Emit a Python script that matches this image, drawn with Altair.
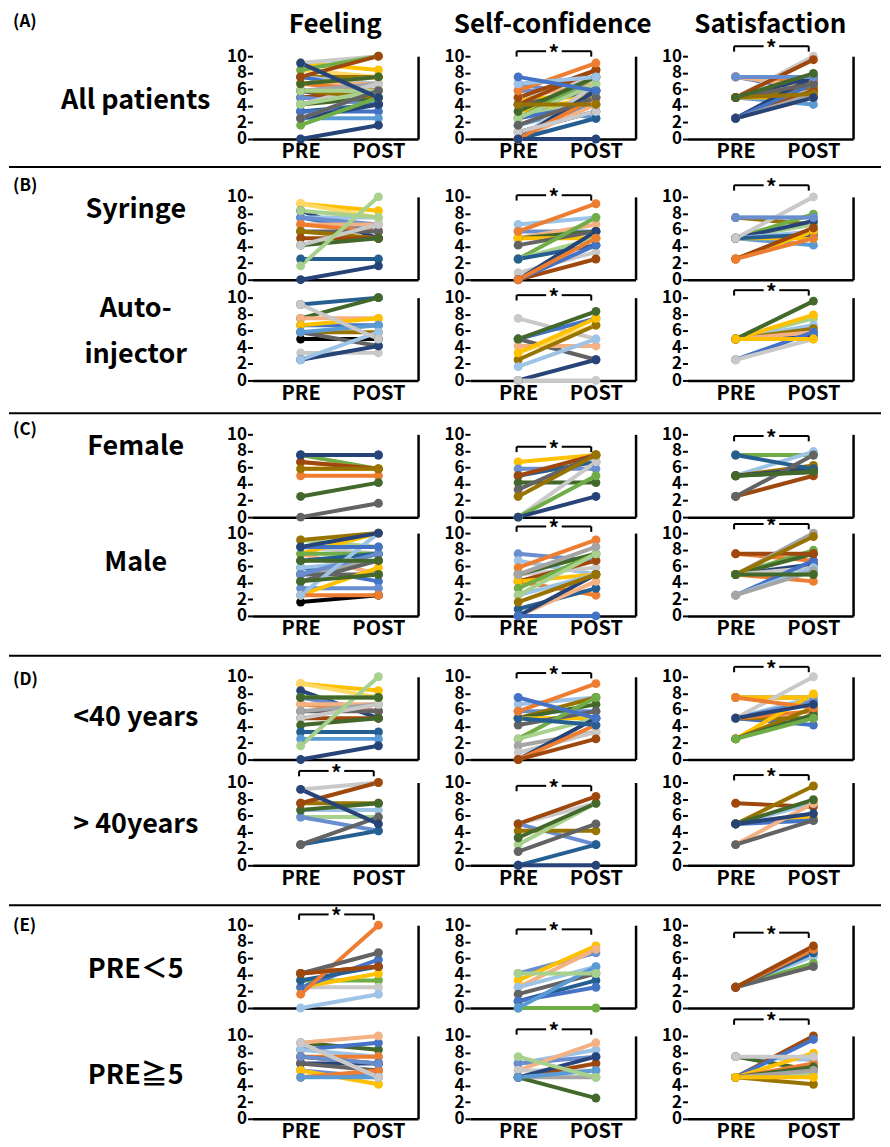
import altair as alt
import pandas as pd

# ---------------- data: (PRE, POST, colour key) per subject ----------------
A_FEELING = [(9.17, 8.33, 'y'), (8.33, 7.5, 'ly'), (7.5, 7.5, 'dy'), (7.5, 6.67, 'sb'), (7.5, 5.83, 'b'),
             (6.67, 6.67, 'lo'), (6.67, 5.83, 'o'), (5.83, 6.67, 'g'), (5.83, 4.17, 'mb'), (5.0, 5.0, 'g'),
             (5.0, 5.83, 'br'), (5.0, 4.17, 'pb'), (4.17, 5.0, 'dgr'), (4.17, 6.67, 'lg'), (3.33, 4.17, 'mb'),
             (3.33, 3.33, 'b'), (2.5, 2.5, 'lb'), (2.5, 4.17, 'db'), (2.5, 5.83, 'sb'), (5.83, 5.0, 'dy'),
             (6.67, 7.5, 'y'), (4.17, 5.83, 'lgr'), (5.83, 5.83, 'lgr'), (9.17, 10.0, 'lg'), (8.33, 10.0, 'gr'),
             (1.67, 5.0, 'gr'), (0.0, 1.67, 'db'), (6.67, 7.5, 'dgr'), (7.5, 10.0, 'br'), (2.5, 5.83, 'dg'),
             (9.17, 5.0, 'db')]
A_CONF = [(6.67, 5.0, 'pb'), (5.83, 5.83, 'pb'), (5.0, 6.67, 'lo'), (5.0, 5.0, 'y'), (4.17, 5.83, 'dg'),
          (4.17, 2.5, 'lb'), (3.33, 5.0, 'y'), (2.5, 7.5, 'gr'), (2.5, 5.0, 'lgr'), (2.5, 4.17, 'b'),
          (1.67, 4.17, 'lb'), (0.83, 3.33, 'db'), (0.0, 4.17, 'lo'), (0.0, 6.67, 'lg'), (5.0, 7.5, 'lg'),
          (4.17, 8.33, 'br'), (0.0, 5.83, 'db'), (0.0, 2.5, 'mb'), (0.0, 5.0, 'o'), (0.83, 3.33, 'lg'),
          (2.5, 6.67, 'lgr'), (1.67, 5.0, 'dg'), (3.33, 7.5, 'dgr'), (4.17, 4.17, 'dy'), (5.0, 8.33, 'br'),
          (5.83, 9.17, 'o'), (6.67, 7.5, 'sb'), (7.5, 5.83, 'b'), (0.0, 0.0, 'db')]
A_SATIS = [(7.5, 7.5, 'sb'), (7.5, 6.67, 'dy'), (7.5, 5.83, 'b'), (7.5, 7.08, 'o'), (7.5, 6.25, 'lo'),
           (5.0, 4.17, 'lb'), (5.0, 5.0, 'y'), (5.0, 6.67, 'lgr'), (5.0, 7.5, 'db'), (5.0, 5.83, 'sb'),
           (5.0, 6.25, 'dy'), (2.5, 5.0, 'o'), (2.5, 5.83, 'y'), (2.5, 5.83, 'br'), (2.5, 7.5, 'db'),
           (2.5, 5.0, 'lg'), (2.5, 6.67, 'b'), (2.5, 5.42, 'g'), (5.0, 10.0, 'lg'), (5.0, 6.67, 'dg'),
           (5.0, 5.42, 'dy'), (5.0, 9.58, 'br'), (7.5, 7.5, 'pb'), (5.0, 7.92, 'dgr'), (2.5, 5.0, 'db')]

SYR_FEELING = [(9.17, 8.33, 'y'), (9.17, 7.5, 'ly'), (8.33, 5.0, 'db'), (7.5, 7.5, 'sb'), (7.5, 5.83, 'b'),
               (7.5, 6.67, 'pb'), (6.67, 6.67, 'lo'), (6.67, 5.83, 'o'), (5.83, 5.83, 'dg'), (5.83, 5.0, 'dy'),
               (5.0, 5.0, 'br'), (4.17, 5.0, 'dgr'), (4.17, 6.67, 'lg'), (2.5, 2.5, 'mb'), (8.33, 7.5, 'lgr'),
               (1.67, 10.0, 'lgr'), (0.0, 1.67, 'db')]
SYR_CONF = [(6.67, 7.5, 'sb'), (5.83, 5.83, 'pb'), (5.0, 6.67, 'lo'), (5.0, 5.83, 'dgr'), (5.0, 5.0, 'y'),
            (4.17, 5.83, 'dg'), (2.5, 7.5, 'gr'), (2.5, 5.0, 'lgr'), (2.5, 4.17, 'mb'), (0.83, 3.33, 'lg'),
            (0.0, 5.83, 'db'), (0.0, 2.5, 'br'), (0.0, 4.17, 'b'), (5.83, 9.17, 'o'), (0.0, 5.0, 'o')]
SYR_SATIS = [(7.5, 7.5, 'sb'), (7.5, 6.67, 'dy'), (5.0, 7.92, 'gr'), (5.0, 4.17, 'lb'), (5.0, 5.0, 'y'),
             (5.0, 6.67, 'lgr'), (5.0, 7.08, 'db'), (5.0, 5.83, 'sb'), (5.0, 5.42, 'mb'), (2.5, 5.83, 'y'),
             (2.5, 6.25, 'br'), (5.0, 10.0, 'lg'), (7.5, 7.5, 'pb'), (2.5, 5.0, 'o')]

AUTO_FEELING = [(5.0, 5.0, 'k'), (9.17, 10.0, 'mb'), (7.5, 10.0, 'dgr'), (7.5, 7.5, 'lo'), (6.67, 6.67, 'b'),
                (6.67, 7.5, 'y'), (5.83, 5.83, 'dy'), (5.83, 4.17, 'dg'), (5.83, 6.67, 'lb'), (3.33, 3.33, 'lg'),
                (2.5, 4.17, 'db'), (2.5, 5.83, 'sb'), (9.17, 5.0, 'lg')]
AUTO_CONF = [(7.5, 5.0, 'lg'), (5.0, 7.5, 'b'), (5.0, 2.5, 'dg'), (4.17, 4.17, 'lo'), (3.33, 6.67, 'ly'),
             (2.5, 6.67, 'dy'), (1.67, 5.0, 'sb'), (0.0, 2.5, 'db'), (0.0, 0.0, 'lg'), (3.33, 7.5, 'y'),
             (5.0, 8.33, 'dgr')]
AUTO_SATIS = [(5.0, 7.5, 'lgr'), (5.0, 6.67, 'sb'), (5.0, 5.83, 'o'), (5.0, 6.25, 'dy'), (5.0, 5.42, 'db'),
              (5.0, 5.83, 'lo'), (2.5, 5.83, 'b'), (2.5, 5.0, 'lg'), (5.0, 7.92, 'y'), (5.0, 9.58, 'dgr'),
              (5.0, 5.0, 'y')]

FEMALE_FEELING = [(7.5, 5.83, 'gr'), (7.5, 7.5, 'b'), (6.67, 5.83, 'o'), (5.83, 5.83, 'y'), (5.0, 5.0, 'o'),
                  (6.67, 5.83, 'br'), (5.83, 5.83, 'dy'), (2.5, 4.17, 'dgr'), (0.0, 1.67, 'dg'),
                  (7.5, 7.5, 'db')]
FEMALE_CONF = [(6.67, 7.5, 'y'), (5.83, 5.83, 'pb'), (5.0, 6.67, 'mb'), (5.0, 7.5, 'br'), (4.17, 4.17, 'dgr'),
               (3.33, 7.5, 'dg'), (0.0, 6.67, 'lg'), (0.0, 5.0, 'gr'), (2.5, 7.5, 'dy'), (0.0, 2.5, 'db')]
FEMALE_SATIS = [(7.5, 7.5, 'lg'), (7.5, 7.5, 'gr'), (5.0, 7.92, 'sb'), (5.0, 6.25, 'dy'), (5.0, 5.83, 'db'),
                (5.0, 5.42, 'dgr'), (2.5, 5.0, 'br'), (7.5, 5.83, 'mb'), (2.5, 7.5, 'dg'), (5.0, 5.5, 'dgr')]

MALE_FEELING = [(1.67, 2.5, 'k'), (9.17, 8.33, 'lgr'), (8.33, 7.5, 'lg'), (7.5, 10.0, 'y'), (7.5, 5.0, 'lo'),
                (7.5, 7.5, 'gr'), (6.67, 7.5, 'mb'), (5.83, 4.17, 'b'), (5.83, 6.67, 'sb'), (5.0, 6.67, 'g'),
                (5.0, 5.0, 'dg'), (5.0, 7.5, 'pb'), (4.17, 6.67, 'dg'), (3.33, 3.33, 'pb'), (2.5, 5.83, 'y'),
                (2.5, 2.5, 'o'), (2.5, 10.0, 'sb'), (8.33, 8.33, 'b'), (4.17, 5.0, 'dgr'), (6.67, 6.67, 'dgr'),
                (9.17, 10.0, 'dy'), (8.33, 10.0, 'db')]
MALE_CONF = [(7.5, 6.67, 'pb'), (6.67, 5.0, 'sb'), (5.0, 5.83, 'lg'), (5.0, 7.5, 'dgr'), (4.17, 2.5, 'o'),
             (4.17, 6.67, 'br'), (4.17, 5.0, 'y'), (3.33, 7.5, 'gr'), (2.5, 5.0, 'sb'), (2.5, 7.5, 'lgr'),
             (0.83, 3.33, 'mb'), (0.0, 4.17, 'lo'), (0.0, 5.0, 'db'), (0.0, 0.0, 'b'), (5.83, 9.17, 'o'),
             (5.0, 8.33, 'g'), (1.67, 5.0, 'dy')]
MALE_SATIS = [(7.5, 6.67, 'o'), (5.0, 7.92, 'gr'), (5.0, 6.25, 'db'), (5.0, 5.0, 'lgr'), (5.0, 4.17, 'o'),
              (5.0, 7.5, 'dgr'), (5.0, 5.83, 'lg'), (2.5, 6.67, 'b'), (2.5, 5.83, 'sb'), (7.5, 7.5, 'br'),
              (5.0, 10.0, 'g'), (2.5, 5.42, 'g'), (5.0, 9.58, 'dy'), (5.0, 5.0, 'dgr')]

U40_FEELING = [(9.17, 8.33, 'y'), (9.17, 7.5, 'ly'), (8.33, 5.0, 'db'), (7.5, 7.5, 'gr'), (7.5, 5.83, 'pb'),
               (6.67, 5.83, 'o'), (6.67, 6.67, 'lo'), (5.83, 5.83, 'dg'), (5.83, 6.67, 'g'), (5.0, 5.0, 'br'),
               (5.0, 6.67, 'lg'), (4.17, 5.0, 'dgr'), (3.33, 3.33, 'mb'), (2.5, 2.5, 'lb'), (1.67, 10.0, 'lgr'),
               (0.0, 1.67, 'db'), (7.5, 7.5, 'dgr')]
U40_CONF = [(6.67, 7.5, 'sb'), (5.83, 5.83, 'pb'), (5.0, 7.5, 'dy'), (5.0, 6.67, 'dgr'), (5.0, 5.0, 'y'),
            (4.17, 5.83, 'dg'), (2.5, 7.5, 'gr'), (2.5, 5.0, 'lgr'), (1.67, 3.33, 'g'), (0.83, 3.33, 'lg'),
            (0.0, 5.0, 'db'), (0.0, 4.17, 'o'), (0.0, 2.5, 'br'), (5.0, 4.17, 'mb'), (5.83, 9.17, 'o'),
            (7.5, 5.0, 'b')]
U40_SATIS = [(7.5, 7.5, 'dy'), (7.5, 7.5, 'y'), (5.0, 7.5, 'sb'), (5.0, 4.17, 'b'), (5.0, 5.0, 'dy'),
             (5.0, 5.83, 'o'), (5.0, 7.08, 'pb'), (2.5, 7.92, 'y'), (2.5, 6.25, 'dy'), (2.5, 5.42, 'dgr'),
             (5.0, 10.0, 'lg'), (7.5, 6.25, 'o'), (5.0, 6.67, 'db'), (2.5, 5.0, 'gr')]

O40_FEELING = [(9.17, 10.0, 'lg'), (7.5, 7.5, 'dy'), (6.67, 6.67, 'sb'), (5.83, 5.83, 'lgr'), (5.83, 4.17, 'pb'),
               (2.5, 4.17, 'mb'), (6.67, 7.5, 'dgr'), (7.5, 10.0, 'br'), (2.5, 5.83, 'dg'), (9.17, 5.0, 'db')]
O40_CONF = [(5.0, 7.5, 'lg'), (5.0, 2.5, 'pb'), (4.17, 4.17, 'dy'), (2.5, 7.5, 'lgr'), (1.67, 5.0, 'dg'),
            (0.0, 2.5, 'mb'), (3.33, 7.5, 'dgr'), (0.0, 0.0, 'db'), (5.0, 8.33, 'br')]
O40_SATIS = [(7.5, 7.08, 'br'), (5.0, 7.5, 'sb'), (5.0, 5.83, 'y'), (5.0, 5.42, 'b'), (2.5, 7.5, 'lo'),
             (2.5, 5.42, 'dg'), (5.0, 9.58, 'dy'), (5.0, 7.92, 'dgr'), (5.0, 6.25, 'db')]

LOW_FEELING = [(4.17, 5.0, 'br'), (3.33, 3.33, 'gr'), (2.5, 2.5, 'lg'), (2.5, 4.17, 'y'), (2.5, 5.83, 'b'),
               (3.33, 5.0, 'mb'), (0.0, 1.67, 'sb'), (1.67, 10.0, 'o'), (4.17, 6.67, 'dg'), (4.17, 5.0, 'br')]
LOW_CONF = [(4.17, 6.67, 'pb'), (3.33, 7.5, 'y'), (2.5, 7.08, 'lo'), (2.5, 5.0, 'sb'), (1.67, 4.17, 'dg'),
            (0.83, 3.33, 'mb'), (0.83, 2.5, 'b'), (0.0, 0.0, 'gr'), (0.0, 5.0, 'lb'), (4.17, 4.17, 'lgr')]
LOW_SATIS = [(2.5, 6.25, 'sb'), (2.5, 5.42, 'gr'), (2.5, 6.67, 'mb'), (2.5, 7.08, 'o'), (2.5, 5.0, 'dg'),
             (2.5, 7.5, 'br')]

HIGH_FEELING = [(9.17, 8.33, 'dgr'), (8.33, 9.17, 'b'), (8.33, 7.5, 'sb'), (7.5, 7.5, 'o'), (7.5, 6.67, 'br'),
                (6.67, 6.67, 'db'), (6.67, 5.83, 'dg'), (5.83, 5.0, 'pb'), (5.83, 4.17, 'y'), (5.0, 5.83, 'o'),
                (5.0, 5.0, 'lb'), (7.5, 6.67, 'pb'), (9.17, 10.0, 'lo'), (9.17, 5.0, 'lg')]
HIGH_CONF = [(6.67, 8.33, 'sb'), (6.67, 7.5, 'pb'), (5.83, 9.17, 'lo'), (5.83, 5.83, 'lg'), (5.0, 6.67, 'br'),
             (5.0, 5.0, 'g'), (5.0, 7.5, 'db'), (5.0, 2.5, 'dgr'), (5.0, 5.83, 'lb'), (7.5, 5.0, 'lgr')]
HIGH_SATIS = [(7.5, 7.08, 'sb'), (7.5, 5.83, 'dgr'), (5.0, 10.0, 'br'), (5.0, 9.58, 'b'), (5.0, 7.92, 'y'),
              (5.0, 6.67, 'o'), (5.0, 6.25, 'dgr'), (5.0, 5.42, 'lgr'), (5.0, 5.83, 'g'), (5.0, 4.17, 'dy'),
              (7.5, 7.5, 'lg'), (5.0, 5.0, 'y')]

COLUMN_TITLES = ["Feeling", "Self-confidence", "Satisfaction"]
TICK_VALUES = [0, 2, 4, 6, 8, 10]
X_LABELS = ["PRE", "POST"]

# ---------------- styles / layout ----------------
COLORS = {
    'b': '#4472C4', 'o': '#ED7D31', 'g': '#A5A5A5', 'y': '#FFC000', 'lb': '#5B9BD5', 'gr': '#70AD47',
    'db': '#264478', 'br': '#9E480E', 'dg': '#636363', 'dy': '#997300', 'mb': '#255E91', 'dgr': '#43682B',
    'pb': '#698ED0', 'lo': '#F4B183', 'lg': '#C9C9C9', 'ly': '#FFD966', 'sb': '#9DC3E6', 'lgr': '#A9D18E',
    'k': '#000000',
}
FONT = "Noto Sans CJK JP"
PW, PH = 166, 83          # panel plot size
LW = 192                  # label column width
GAP = 52                  # horizontal gap between cells
FULL_W = 874
X_DOMAIN = [-0.62, 1.51]
YSCALE = alt.Scale(domain=[0, 10], nice=False, zero=True)
ONE = pd.DataFrame({'a': [0]})


def xenc(field, show):
    return alt.X(f'{field}:Q', scale=alt.Scale(domain=X_DOMAIN, nice=False, zero=False),
                 axis=alt.Axis(values=[0, 1],
                               labelExpr=f"datum.value == 0 ? '{X_LABELS[0]}' : '{X_LABELS[1]}'",
                               labels=show, ticks=False, grid=False, domain=True, domainColor='black',
                               domainWidth=2.5, title=None, labelFont=FONT, labelFontSize=20,
                               labelFontWeight='bold', labelColor='black', labelPadding=3,
                               labelFlush=False))


def panel(rows, bracket=None, show_x=False):
    recs = []
    for i, (a, b, c) in enumerate(rows):
        recs.append({'id': i, 't': 0, 'v': a, 'c': COLORS[c]})
        recs.append({'id': i, 't': 1, 'v': b, 'c': COLORS[c]})
    df = pd.DataFrame(recs)
    y_left = alt.Y('v:Q', scale=YSCALE,
                   axis=alt.Axis(values=TICK_VALUES, grid=False, domain=False, ticks=True, tickColor='black',
                                 tickSize=5, tickWidth=2, labelFont=FONT, labelFontSize=17,
                                 labelFontWeight='bold', labelColor='black', labelPadding=1, title=None,
                                 labelOverlap=False))
    y_right = alt.Y('v:Q', scale=YSCALE,
                    axis=alt.Axis(orient='right', labels=False, ticks=False, grid=False, domain=True,
                                  domainColor='black', domainWidth=2.5, title=None))
    lines = alt.Chart(df).mark_line(strokeWidth=4).encode(
        x=xenc('t', show_x), y=y_left, detail='id:N', color=alt.Color('c:N', scale=None))
    points = alt.Chart(df).mark_circle(size=80, opacity=1).encode(
        x=xenc('t', show_x), y=y_right, color=alt.Color('c:N', scale=None))
    layers = [lines, points]
    if bracket is not None:
        bd = pd.DataFrame([
            {'x': -0.02, 'x2': 0.36, 'y': bracket, 'y2': bracket},
            {'x': 0.56, 'x2': 0.94, 'y': bracket, 'y2': bracket},
            {'x': -0.02, 'x2': -0.02, 'y': bracket, 'y2': bracket - 0.65},
            {'x': 0.94, 'x2': 0.94, 'y': bracket, 'y2': bracket - 0.65},
        ])
        rules = alt.Chart(bd).mark_rule(color='black', strokeWidth=2).encode(
            x=xenc('x', show_x), x2='x2:Q', y=alt.Y('y:Q', scale=YSCALE, axis=None), y2='y2:Q')
        sd = pd.DataFrame({'x': [0.46], 'y': [bracket], 's': ['*']})
        star = alt.Chart(sd).mark_text(font=FONT, fontSize=21, fontWeight='bold', color='black',
                                       baseline='middle', dy=4).encode(
            x=xenc('x', show_x), y=alt.Y('y:Q', scale=YSCALE, axis=None), text='s:N')
        layers += [rules, star]
    return alt.layer(*layers).resolve_axis(y='independent').properties(width=PW, height=PH)


def text_layer(s, x, y, size, align='center', baseline='middle'):
    return alt.Chart(ONE).mark_text(font=FONT, fontWeight='bold', fontSize=size, color='black',
                                    align=align, baseline=baseline).encode(
        x=alt.value(x), y=alt.value(y), text=alt.value(s))


def blank(w, h):
    return alt.Chart(ONE).mark_text(text='').encode(x=alt.value(0), y=alt.value(0)).properties(width=w, height=h)


def label_cell(items, h=PH):
    return alt.layer(*items).properties(width=LW, height=h)


def divider_row(h, d):
    rule = alt.Chart(ONE).mark_rule(color='black', strokeWidth=2).encode(
        x=alt.value(0), x2=alt.value(FULL_W), y=alt.value(d)).properties(width=LW, height=h)
    return [rule, blank(PW, h), blank(PW, h), blank(PW, h)]


def spacer_row(h):
    return [blank(LW, h), blank(PW, h), blank(PW, h), blank(PW, h)]


def row(label_items, datasets, brackets, show_x):
    cells = [label_cell(label_items)]
    for d, b in zip(datasets, brackets):
        cells.append(panel(d, b, show_x))
    return cells


LX = 127   # row label centre
SX = 4     # section letter x

header = [label_cell([text_layer('(A)', SX, 13, 17, align='left')], h=47)] + \
         [alt.layer(text_layer(t, PW / 2, 16, 26)).properties(width=PW, height=47) for t in COLUMN_TITLES]

cells = []
cells += header
cells += row([text_layer('All patients', LX, 45, 27)], [A_FEELING, A_CONF, A_SATIS], [None, 10.6, 11.2], True)
cells += divider_row(58, 28)
cells += row([text_layer('(B)', SX, -11, 17, align='left'), text_layer('Syringe', LX, 13, 27)],
             [SYR_FEELING, SYR_CONF, SYR_SATIS], [None, 10.2, 11.4], False)
cells += spacer_row(18)
cells += row([text_layer('Auto-', LX, 11, 27), text_layer('injector', LX, 58, 27)],
             [AUTO_FEELING, AUTO_CONF, AUTO_SATIS], [None, 10.3, 10.9], True)
cells += divider_row(54, 33)
cells += row([text_layer('(C)', SX, -4, 17, align='left'), text_layer('Female', LX, 13, 27)],
             [FEMALE_FEELING, FEMALE_CONF, FEMALE_SATIS], [None, 8.5, 9.8], False)
cells += spacer_row(16)
cells += row([text_layer('Male', LX, 30, 27)], [MALE_FEELING, MALE_CONF, MALE_SATIS], [None, 10.8, 11.1], True)
cells += divider_row(61, 40)
cells += row([text_layer('(D)', SX, 3, 17, align='left'), text_layer('<40 years', LX, 41, 27)],
             [U40_FEELING, U40_CONF, U40_SATIS], [None, 10.45, 11.2], False)
cells += spacer_row(23)
cells += row([text_layer('> 40years', LX, 43, 27)], [O40_FEELING, O40_CONF, O40_SATIS], [11.4, 9.6, 10.9], True)
cells += divider_row(60, 40)
cells += row([text_layer('(E)', SX, 1, 17, align='left'), text_layer('PRE＜5', LX, 45, 27)],
             [LOW_FEELING, LOW_CONF, LOW_SATIS], [11.3, 9.5, 9.1], False)
cells += spacer_row(28)
cells += row([text_layer('PRE≧5', LX, 40, 27)], [HIGH_FEELING, HIGH_CONF, HIGH_SATIS], [None, 10.8, 12.0], True)

chart = alt.concat(*cells, columns=4, spacing={'row': 0, 'column': GAP}, bounds='flush').properties(
    padding={'left': 0, 'top': 0, 'right': 0, 'bottom': 0}
).configure_view(stroke=None)

chart.save("out.html", embed_options={"renderer": "svg", "actions": False})
